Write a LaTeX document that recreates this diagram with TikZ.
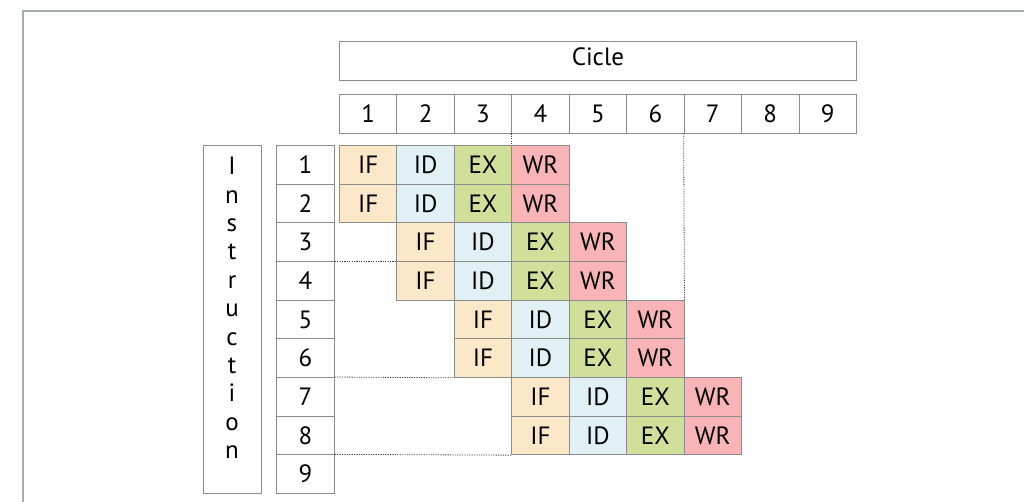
\documentclass[tikz,border=0pt]{standalone}
\usepackage{fontspec}
\setmainfont{PT Sans}
\definecolor{cIF}{HTML}{FBE8C8}
\definecolor{cID}{HTML}{E1F0F5}
\definecolor{cEX}{HTML}{D0E09A}
\definecolor{cWR}{HTML}{F8B4B6}
\definecolor{frameC}{HTML}{A8ACB0}
\begin{document}
\begin{tikzpicture}[x=1pt,y=-1pt,
  cell/.style={draw=black!45, line width=0.8pt, anchor=north west, inner sep=0pt,
    minimum width=57.44pt, minimum height=38.67pt, font=\fontsize{25}{28}\selectfont},
  dots/.style={draw=black!75, line width=0.8pt, dash pattern=on 1.2pt off 1.2pt},
  frameline/.style={draw=frameC, line width=2pt}]
\useasboundingbox (0,0) rectangle (1024,501);
\clip (0,0) rectangle (1024,501);
\draw[frameline] (23,520) -- (23,11) -- (1040,11);
\node[cell, minimum width=516.96pt, minimum height=39pt, text depth=9pt] (cicle) at (339,41) {Cicle};
\foreach \c in {1,...,9}
  \node[cell] (h\c) at ({339+57.44*(\c-1)},94) {\c};
\foreach \r in {1,...,9}
  \node[cell, minimum width=58pt] (n\r) at (276,{145+38.67*(\r-1)}) {\r};
\node[cell, minimum width=58pt, minimum height=348pt] (instr) at (203,145) {};
\node[anchor=north, inner sep=0pt, align=center, font=\fontsize{25}{28.4}\selectfont] (instrtext) at (232,157)
  {I\\n\\s\\t\\r\\u\\c\\t\\i\\o\\n};
\foreach \r/\s in {1/1,2/1,3/2,4/2,5/3,6/3,7/4,8/4}
  \foreach \st/\col [count=\k from 0] in {IF/cIF,ID/cID,EX/cEX,WR/cWR}
    \node[cell, fill=\col] (p\r-\k) at ({339+57.44*(\s+\k-1)},{145+38.67*(\r-1)}) {\st};
\draw[dots] (h4.south west) -- (p1-3.north west);
\draw[dots] (h7.south west) -- (p5-3.north east);
\draw[dots] (n4.north east) -- (p4-0.north west);
\draw[dots] (n7.north east) -- (p6-0.south west);
\draw[dots] (n9.north east) -- (p8-0.south west);
\end{tikzpicture}
\end{document}
